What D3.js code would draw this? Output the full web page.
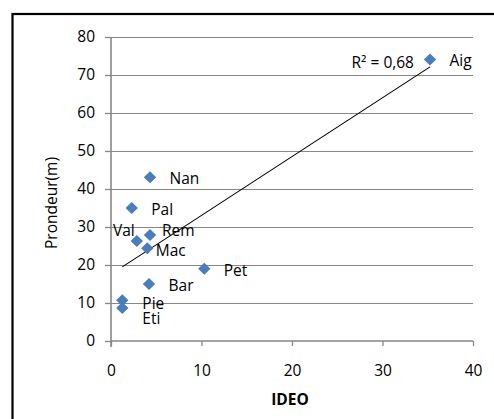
<!DOCTYPE html>
<html>
<head>
<meta charset="utf-8">
<script src="https://cdn.jsdelivr.net/npm/d3@7"></script>
<style>
  body { margin: 0; background: #fff; }
  svg { display: block; font-family: "Open Sans", sans-serif; }
</style>
</head>
<body>
<svg id="chart" width="494" height="419"></svg>
<script>
// site names, IDEO (x) and depth in metres (y)
const sites = ['Aig', 'Nan', 'Pal', 'Val', 'Rem', 'Mac', 'Pet', 'Bar', 'Pie', 'Eti'];
const ideo = [35.25, 4.31, 2.29, 2.85, 4.31, 4.01, 10.31, 4.2, 1.25, 1.25];
const depth = [74.1, 43.1, 35.0, 26.3, 27.9, 24.4, 19.0, 15.0, 10.7, 8.7];

const xTicks = [0, 10, 20, 30, 40];
const yTicks = [0, 10, 20, 30, 40, 50, 60, 70, 80];
const r2Label = 'R² = 0,68';

// hand-placed label nudges (px), like the moved labels in the original
const labelNudge = {
  Val: { dx: -2, dy: -5, anchor: 'end' },
  Rem: { dx: 12, dy: 1 },
  Mac: { dx: 8.5, dy: 7.5 },
  Pie: { dx: 20, dy: 9 },
  Eti: { dx: 20, dy: 16.5 }
};

const svg = d3.select('#chart');
const x = d3.scaleLinear().domain([0, 40]).range([111, 473]);
const y = d3.scaleLinear().domain([0, 80]).range([341, 37]);
const grey = '#878787';

// outer frame (cut at the right and bottom, as in the picture)
svg.append('rect')
  .attr('x', 12.5).attr('y', 14)
  .attr('width', 520).attr('height', 440)
  .attr('fill', 'none').attr('stroke', '#000').attr('stroke-width', 2.2);

// gridlines
svg.append('g')
  .selectAll('line')
  .data(yTicks.filter((t) => t > 0))
  .enter()
  .append('line')
  .attr('x1', x(0)).attr('x2', x(40))
  .attr('y1', (d) => Math.round(y(d)) + 0.5).attr('y2', (d) => Math.round(y(d)) + 0.5)
  .attr('stroke', grey).attr('stroke-width', 1);

// axes
const yAxis = svg.append('g')
  .attr('transform', `translate(${x(0)},0)`)
  .call(d3.axisLeft(y).tickValues(yTicks).tickSize(6).tickPadding(10));
const xAxis = svg.append('g')
  .attr('transform', `translate(0,${y(0)})`)
  .call(d3.axisBottom(x).tickValues(xTicks).tickSize(5).tickPadding(19));

[xAxis, yAxis].forEach((g) => {
  g.select('.domain').attr('stroke', grey).attr('stroke-width', 1.6);
  g.selectAll('.tick line').attr('stroke', grey).attr('stroke-width', 1.3);
  g.selectAll('.tick text')
    .attr('fill', '#000')
    .style('font-size', '15.5px')
    .style('font-family', '"Open Sans", sans-serif');
});
xAxis.select('.domain').attr('d', `M${x(0)},0H${x(40)}`);
yAxis.select('.domain').attr('d', `M0,${y(0) + 6}V${y(80)}`);

// least-squares trendline
const mx = d3.mean(ideo);
const my = d3.mean(depth);
const sxy = d3.sum(ideo, (v, i) => (v - mx) * (depth[i] - my));
const sxx = d3.sum(ideo, (v) => (v - mx) * (v - mx));
const slope = sxy / sxx;
const icpt = my - slope * mx;
const [xmin, xmax] = d3.extent(ideo);

svg.append('line')
  .attr('x1', x(xmin)).attr('y1', y(icpt + slope * xmin))
  .attr('x2', x(xmax)).attr('y2', y(icpt + slope * xmax))
  .attr('stroke', '#000').attr('stroke-width', 1.1);

// markers
const points = sites.map((s, i) => ({ name: s, x: ideo[i], y: depth[i] }));

svg.append('g')
  .selectAll('path')
  .data(points)
  .enter()
  .append('path')
  .attr('transform', (d) => `translate(${x(d.x)},${y(d.y)})`)
  .attr('d', 'M0,-6L6.2,0L0,6L-6.2,0Z')
  .attr('fill', '#4a7ebb');

// data labels
svg.append('g')
  .selectAll('text')
  .data(points)
  .enter()
  .append('text')
  .attr('x', (d) => x(d.x) + (labelNudge[d.name] ? labelNudge[d.name].dx : 19.5))
  .attr('y', (d) => y(d.y) + (labelNudge[d.name] ? labelNudge[d.name].dy : 7))
  .attr('text-anchor', (d) => (labelNudge[d.name] && labelNudge[d.name].anchor) || 'start')
  .style('font-size', '15.5px')
  .text((d) => d.name);

// R² label
svg.append('text')
  .attr('x', 414).attr('y', 68)
  .attr('text-anchor', 'end')
  .style('font-size', '15.5px')
  .text(r2Label);

// axis titles
svg.append('text')
  .attr('x', 290).attr('y', 405)
  .attr('text-anchor', 'middle')
  .style('font-size', '15.5px')
  .style('font-weight', 'bold')
  .text('IDEO');

svg.append('text')
  .attr('transform', 'translate(57,203) rotate(-90)')
  .attr('text-anchor', 'middle')
  .style('font-size', '15.5px')
  .text('Prondeur(m)');
</script>
</body>
</html>
